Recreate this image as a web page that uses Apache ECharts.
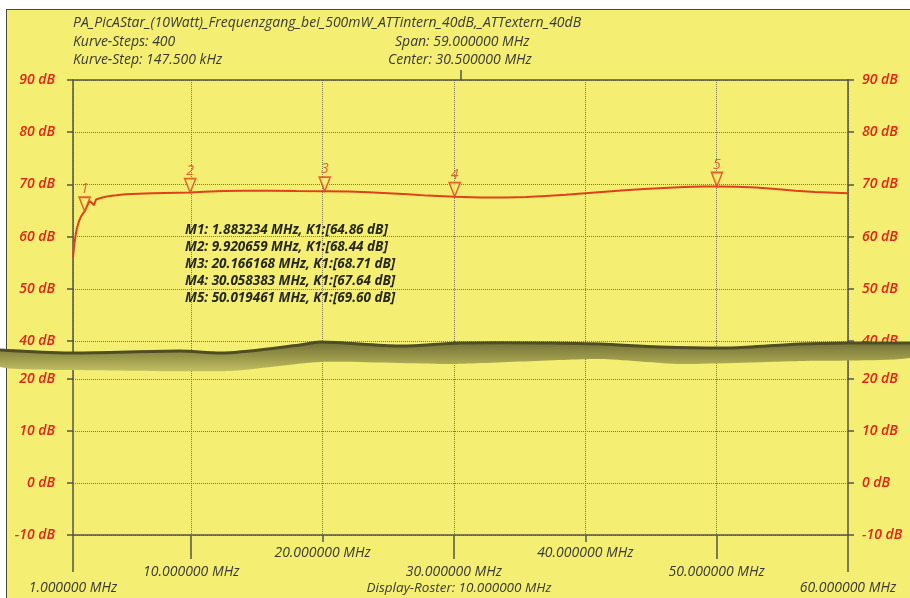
<!DOCTYPE html>
<html>
<head>
<meta charset="utf-8">
<script src="https://cdn.jsdelivr.net/npm/echarts@6/dist/echarts.min.js"></script>
<style>
  html, body { margin: 0; padding: 0; background: #ffffff; }
  #wrap { position: relative; width: 910px; height: 598px; overflow: hidden; }
  #page { position: absolute; left: 6px; top: 9px; width: 910px; height: 600px;
          background: #f4ee72; border-left: 1.5px solid #4a4a40; border-top: 1.5px solid #4a4a40; }
  #chart { position: absolute; left: 0; top: 0; width: 910px; height: 598px; }
</style>
</head>
<body>
<div id="wrap"><div id="page"></div><div id="chart"></div></div>
<script>
// ---- data ----
const freqMHz = [1.0,1.1,1.2,1.3,1.45,1.6,1.75,1.883,2.0,2.15,2.3,2.45,2.6,2.75,2.9,3.1,3.4,3.8,4.3,5.0,6.0,7.0,8.0,9.0,9.92,11,12.5,14,16,18,20.17,22,23.5,25,26.5,28,30.06,32,34,35.5,37,38.5,40,41.5,43,44.5,46,47.5,49,50.02,51.5,53,54.5,56,57.5,59,60];
const levelDb = [56.0,58.5,60.3,61.6,62.9,63.8,64.4,64.86,65.5,66.3,66.8,66.9,66.0,67.1,67.3,67.4,67.6,67.8,67.9,68.1,68.2,68.3,68.35,68.4,68.44,68.6,68.75,68.8,68.8,68.75,68.71,68.65,68.5,68.3,68.1,67.85,67.64,67.5,67.5,67.6,67.8,68.0,68.3,68.6,68.9,69.1,69.3,69.5,69.6,69.6,69.55,69.4,69.1,68.8,68.55,68.4,68.3];
const markerNames = ['1','2','3','4','5'];
const markerFreq = [1.883234, 9.920659, 20.166168, 30.058383, 50.019461];
const markerDb = [64.86, 68.44, 68.71, 67.64, 69.60];
const xGridValues = [1,10,20,30,40,50,60];
const xLongTicks = [10,30,50];
const xShortTicks = [20,40];
const xEndTicks = [1,60];
const xCenterTick = [30.5];
const headerLines = ['PA_PicAStar_(10Watt)_Frequenzgang_bei_500mW_ATTintern_40dB,_ATTextern_40dB','Kurve-Steps: 400','Kurve-Step: 147.500 kHz'];
const spanText = 'Span: 59.000000 MHz';
const centerText = 'Center: 30.500000 MHz';
const rosterText = 'Display-Roster: 10.000000 MHz';

// ---- styles ----
const RED = '#e2241a';
const CURVE = '#e0401c';
const AX = '#55554a';
const TXT = '#3a3a36';
const GRID = { show: true, lineStyle: { color: 'rgba(90,90,75,0.8)', type: 'dotted', width: 1 } };
const FONT = '"Open Sans", "Noto Sans", sans-serif';

const chart = echarts.init(document.getElementById('chart'), null, { renderer: 'canvas' });

const mhz = v => v.toFixed(6) + ' MHz';
const gridPos = { left: 73, right: 62, containLabel: false, outerBoundsMode: 'none' };
const noLine = { show: false, onZero: false };
const solidLine = { show: true, onZero: false, lineStyle: { color: AX, width: 1.5 } };

function yAx(grid, pos, min, max, withLabels, split) {
  return {
    type: 'value', gridIndex: grid, position: pos, min: min, max: max,
    interval: withLabels ? 10 : null,
    axisLine: solidLine,
    axisTick: { show: withLabels, length: 6, lineStyle: { color: AX, width: 1.5 } },
    axisLabel: { show: withLabels, formatter: '{value} dB', color: RED, fontStyle: 'italic', fontWeight: 600,
                 fontSize: 14, fontFamily: FONT, margin: pos === 'left' ? 18 : 14 },
    splitLine: split ? GRID : { show: false }
  };
}

const labelBase = { color: TXT, fontStyle: 'italic', fontSize: 14, fontFamily: FONT, formatter: mhz,
                    showMinLabel: true, showMaxLabel: true, hideOverlap: false };

const option = {
  animation: false,
  backgroundColor: 'transparent',
  grid: [
    Object.assign({ top: 80, height: 261 }, gridPos),
    Object.assign({ top: 341, height: 38 }, gridPos),
    Object.assign({ top: 379, height: 156 }, gridPos)
  ],
  xAxis: [
    { type: 'value', gridIndex: 0, position: 'top', min: 1, max: 60, axisLine: solidLine,
      axisTick: { show: true, customValues: xCenterTick, length: 10, lineStyle: { color: AX, width: 1.5 } },
      axisLabel: { show: false }, splitLine: { show: false } },
    { type: 'value', gridIndex: 0, position: 'bottom', min: 1, max: 60, axisLine: noLine,
      axisTick: { show: false, customValues: xGridValues }, axisLabel: { show: false }, splitLine: GRID },
    { type: 'value', gridIndex: 1, position: 'bottom', min: 1, max: 60, axisLine: noLine,
      axisTick: { show: false, customValues: xGridValues }, axisLabel: { show: false }, splitLine: GRID },
    { type: 'value', gridIndex: 2, position: 'bottom', min: 1, max: 60, axisLine: solidLine,
      axisTick: { show: true, customValues: xLongTicks, length: 24, lineStyle: { color: AX, width: 1.5 } },
      axisLabel: Object.assign({ customValues: xLongTicks, margin: 30 }, labelBase), splitLine: GRID },
    { type: 'value', gridIndex: 2, position: 'bottom', min: 1, max: 60, axisLine: noLine,
      axisTick: { show: true, customValues: xShortTicks, length: 7, lineStyle: { color: AX, width: 1.5 } },
      axisLabel: Object.assign({ customValues: xShortTicks, margin: 11 }, labelBase), splitLine: GRID },
    { type: 'value', gridIndex: 2, position: 'bottom', min: 1, max: 60, axisLine: noLine,
      axisTick: { show: true, customValues: xEndTicks, length: 37, lineStyle: { color: AX, width: 1.5 } },
      axisLabel: Object.assign({ customValues: xEndTicks, margin: 46 }, labelBase), splitLine: { show: false } }
  ],
  yAxis: [
    yAx(0, 'left', 40, 90, true, true),
    yAx(0, 'right', 40, 90, true, false),
    yAx(1, 'left', 0, 1, false, false),
    yAx(1, 'right', 0, 1, false, false),
    yAx(2, 'left', -10, 20, true, true),
    yAx(2, 'right', -10, 20, true, false)
  ],
  series: [
    { type: 'line', xAxisIndex: 1, yAxisIndex: 0, showSymbol: false, silent: true,
      lineStyle: { color: CURVE, width: 2 }, data: freqMHz.map((f, i) => [f, levelDb[i]]), z: 3 },
    { type: 'scatter', xAxisIndex: 1, yAxisIndex: 0, silent: true,
      symbol: 'path://M0,0L10,0L5,14Z', symbolSize: [11, 14], symbolOffset: [0, -7],
      itemStyle: { color: '#f4ee72', borderColor: CURVE, borderWidth: 1.6 },
      label: { show: true, position: 'top', distance: 0, formatter: p => p.data[2], color: CURVE,
               fontStyle: 'italic', fontSize: 14, fontFamily: FONT },
      data: markerFreq.map((f, i) => [f, markerDb[i], markerNames[i]]), z: 4 }
  ],
  graphic: [
    { type: 'text', left: 73, top: 16, style: { text: headerLines[0], fill: TXT, fontStyle: 'italic', fontSize: 14, fontFamily: FONT } },
    { type: 'text', left: 73, top: 35, style: { text: headerLines[1], fill: TXT, fontStyle: 'italic', fontSize: 14, fontFamily: FONT } },
    { type: 'text', left: 73, top: 53, style: { text: headerLines[2], fill: TXT, fontStyle: 'italic', fontSize: 14, fontFamily: FONT } },
    { type: 'text', left: 395, top: 35, style: { text: spanText, fill: TXT, fontStyle: 'italic', fontSize: 14, fontFamily: FONT } },
    { type: 'text', left: 388, top: 53, style: { text: centerText, fill: TXT, fontStyle: 'italic', fontSize: 14, fontFamily: FONT } },
    { type: 'text', x: 459, y: 581, style: { text: rosterText, textAlign: 'center', fill: TXT, fontStyle: 'italic', fontSize: 13.5, fontFamily: FONT } },
    { type: 'text', left: 185, top: 222, z: 10,
      style: { text: markerFreq.map((f, i) => 'M' + markerNames[i] + ': ' + f.toFixed(6) + ' MHz, K1:[' + markerDb[i].toFixed(2) + ' dB]').join('\n'),
               fill: '#26261f', fontStyle: 'italic', fontWeight: 'bold', fontSize: 13.5, fontFamily: FONT, lineHeight: 17 } },
    // page fold artefact of the scanned print
    { type: 'polygon', z: 100, silent: true,
      shape: { points: [[0,350],[70,353],[180,351],[225,353],[300,345],[320,342],[400,346],[460,343],[550,343],[600,344],[660,347],[730,348],[800,344],[850,343],[910,343],
                        [910,358],[800,361],[680,364],[600,359],[450,364],[320,362],[230,371],[70,370],[0,367]], smooth: 0.2 },
      style: { fill: { type: 'linear', x: 0, y: 0, x2: 0, y2: 1, colorStops: [
        { offset: 0, color: '#727036' }, { offset: 0.5, color: '#989649' }, { offset: 1, color: '#c2bf63' } ] } } },
    { type: 'polyline', z: 101, silent: true,
      shape: { points: [[0,350],[70,353],[180,351],[225,353],[300,345],[320,342],[400,346],[460,343],[550,343],[600,344],[660,347],[730,348],[800,344],[850,343],[910,343]], smooth: 0.3 },
      style: { stroke: '#4f4d24', lineWidth: 3, fill: null } }
  ]
};
chart.setOption(option);
</script>
</body>
</html>
